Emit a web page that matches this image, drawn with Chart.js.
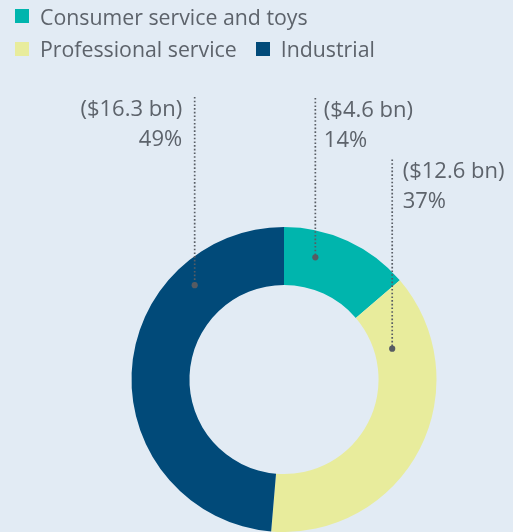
<!DOCTYPE html>
<html>
<head>
<meta charset="utf-8">
<script src="https://cdn.jsdelivr.net/npm/chart.js@4"></script>
<style>
  html, body { margin: 0; padding: 0; background: #e2ebf4; }
  #wrap { position: relative; width: 513px; height: 532px; overflow: hidden; }
  #legend { position: absolute; left: 15px; top: 4px; width: 498px; display: flex; flex-wrap: wrap;
            font-family: "Open Sans", sans-serif; font-size: 21.3px; color: #5d636b; }
  .item { display: flex; align-items: center; height: 24px; margin-right: 19px; margin-bottom: 8.5px; }
  .box { width: 14px; height: 14px; margin-right: 11px; }
  canvas { position: absolute; left: 0; top: 0; }
</style>
</head>
<body>
<div id="wrap">
  <canvas id="c" width="513" height="532"></canvas>
  <div id="legend"></div>
</div>
<script>
const categories = ['Consumer service and toys', 'Professional service', 'Industrial'];
const valuesBn = [4.6, 12.6, 16.3];
const percentLabels = ['14%', '37%', '49%'];
const colors = ['#00b5ad', '#e8ec9c', '#014a79'];

// annotation placement (style only): where on the slice the pointer dot sits
const pointerStyle = [
  { frac: 0.291, rfrac: 0.545, lineTop: 98,    side: 'right', dx: 8.5 },
  { frac: 0.182, rfrac: 0.31,  lineTop: 159.5, side: 'right', dx: 10.5 },
  { frac: 0.752, rfrac: 0.61,  lineTop: 97,    side: 'left',  dx: -12.5 }
];

// HTML legend
const legendEl = document.getElementById('legend');
categories.forEach((c, i) => {
  const it = document.createElement('div');
  it.className = 'item';
  const b = document.createElement('span');
  b.className = 'box';
  b.style.background = colors[i];
  const t = document.createElement('span');
  t.textContent = c;
  it.appendChild(b); it.appendChild(t);
  legendEl.appendChild(it);
});

const calloutPlugin = {
  id: 'callouts',
  afterDatasetsDraw(chart) {
    const ctx = chart.ctx;
    const meta = chart.getDatasetMeta(0);
    meta.data.forEach((arc, i) => {
      const p = pointerStyle[i];
      const a = arc.startAngle + p.frac * (arc.endAngle - arc.startAngle);
      const r = arc.innerRadius + p.rfrac * (arc.outerRadius - arc.innerRadius);
      const x = arc.x + r * Math.cos(a);
      const y = arc.y + r * Math.sin(a);
      ctx.save();
      ctx.strokeStyle = '#585d64';
      ctx.lineWidth = 1.7;
      ctx.setLineDash([1.6, 2.1]);
      ctx.beginPath();
      ctx.moveTo(x, p.lineTop);
      ctx.lineTo(x, y);
      ctx.stroke();
      ctx.setLineDash([]);
      ctx.fillStyle = '#565b62';
      ctx.beginPath();
      ctx.arc(x, y, 3.1, 0, Math.PI * 2);
      ctx.fill();
      ctx.font = '22px "Open Sans"';
      ctx.fillStyle = '#5d636b';
      ctx.textBaseline = 'alphabetic';
      ctx.textAlign = p.side === 'left' ? 'right' : 'left';
      const tx = x + p.dx;
      ctx.fillText('($' + valuesBn[i] + ' bn)', tx, p.lineTop + 18.5);
      ctx.fillText(percentLabels[i], tx, p.lineTop + 48.5);
      ctx.restore();
    });
  }
};

new Chart(document.getElementById('c'), {
  type: 'doughnut',
  data: {
    labels: categories,
    datasets: [{
      data: valuesBn,
      backgroundColor: colors,
      borderWidth: 0
    }]
  },
  options: {
    responsive: false,
    animation: false,
    cutout: '62%',
    layout: { padding: { top: 227, left: 55, right: 0, bottom: 0 } },
    plugins: {
      legend: { display: false },
      tooltip: { enabled: false }
    }
  },
  plugins: [calloutPlugin]
});
</script>
</body>
</html>
